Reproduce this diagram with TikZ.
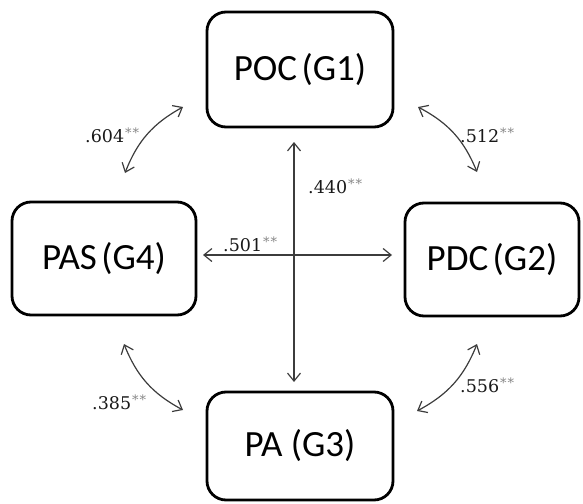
\documentclass[tikz,border=0pt]{standalone}
\usepackage{fontspec}
\setmainfont{DejaVu Serif}
\newfontfamily\boxfont{Carlito}
\usetikzlibrary{arrows.meta}
\definecolor{linkgray}{RGB}{60,60,60}
\definecolor{stargray}{RGB}{135,135,135}
% significance stars: grey, raised, slightly spaced
\newcommand\starmark{\raisebox{4.5pt}{\fontsize{13}{13}\selectfont\color{stargray}\kern1pt*\kern1pt*}}
\tikzset{
  grp/.style={draw=black, line width=2.8pt, rounded corners=19pt,
    inner sep=0pt, outer sep=0pt,
    font=\boxfont\fontsize{37}{40}\selectfont},
  link/.style={draw=linkgray, line width=1.2pt,
    {Straight Barb[length=8pt,width=13pt]}-{Straight Barb[length=8pt,width=13pt]}},
  coef/.style={anchor=base west, inner sep=0pt, text=black!90,
    font=\fontsize{17.5}{20}\selectfont}
}
\begin{document}
\begin{tikzpicture}[x=1pt,y=-1pt]
  \useasboundingbox (0,0) rectangle (583,503);

  % the four groups
  \node[grp, minimum width=186pt, minimum height=115pt] (poc) at (300,69.5) {POC\hspace{0.12em}(G1)};
  \node[grp, minimum width=184pt, minimum height=113pt] (pas) at (104,258.5) {PAS\hspace{0.12em}(G4)};
  \node[grp, minimum width=174pt, minimum height=113pt] (pdc) at (492,259.5) {PDC\hspace{0.12em}(G2)};
  \node[grp, minimum width=186pt, minimum height=108pt] (pa)  at (300,446)  {PA (G3)};

  % straight correlations through the middle
  \draw[link] ([shift={(7,-3.5)}]pas.east) -- ([shift={(-13,-4.5)}]pdc.west);
  \draw[link] ([shift={(-6,15)}]poc.south) -- ([shift={(-6,-10)}]pa.north);

  % curved correlations between neighbouring groups
  \draw[link] ([shift={(-71,-29)}]pas.north east) to[bend left=20]
              ([shift={(-24,-20)}]poc.south west);
  \draw[link] ([shift={(25,-20)}]poc.south east) to[bend left=20]
              ([shift={(72,-31)}]pdc.north west);
  \draw[link] ([shift={(-72,29)}]pas.south east) to[bend right=20]
              ([shift={(-24,18)}]pa.north west);
  \draw[link] ([shift={(72,28)}]pdc.south west) to[bend left=20]
              ([shift={(24,19)}]pa.north east);

  % correlation coefficients
  \node[coef] (c604) at (85,142)  {.604\starmark};
  \node[coef] (c512) at (460,142) {.512\starmark};
  \node[coef] (c385) at (92,409)  {.385\starmark};
  \node[coef] (c556) at (460,392) {.556\starmark};
  \node[coef] (c440) at (308,193) {.440\starmark};
  \node[coef] (c501) at (223,251) {.501\starmark};
\end{tikzpicture}
\end{document}
